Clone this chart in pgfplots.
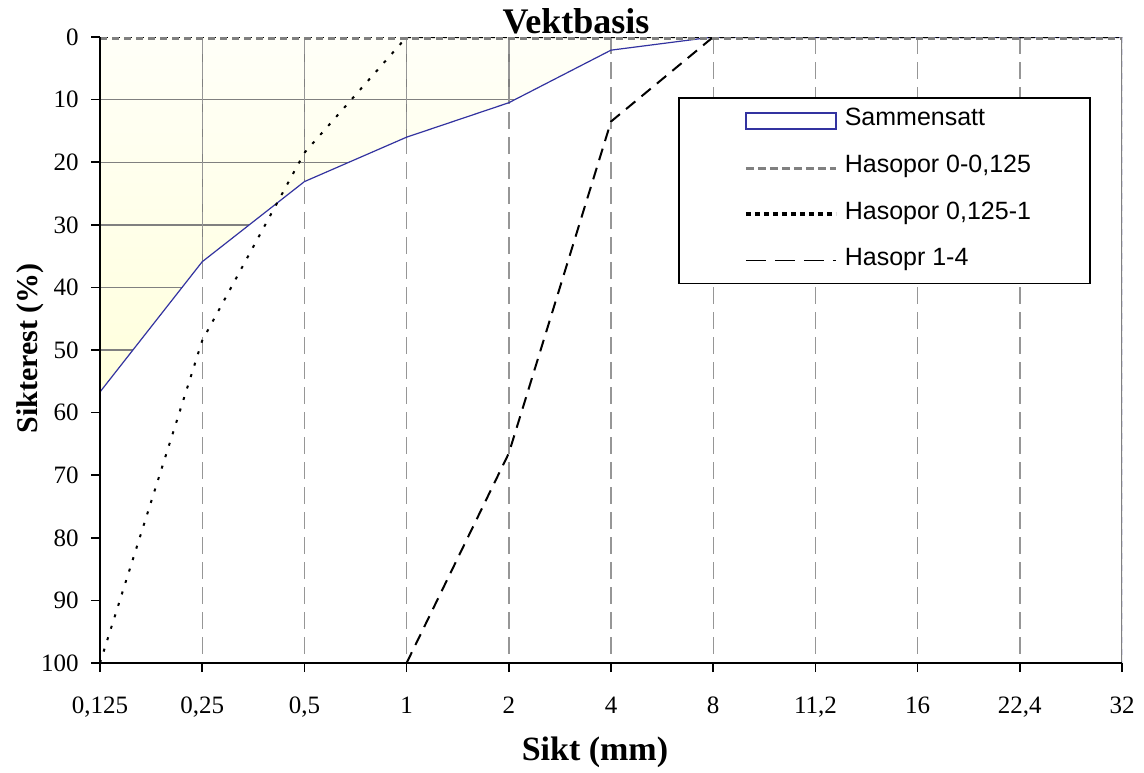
\documentclass[border=0pt]{standalone}
\usepackage{fontspec}
\setmainfont{Liberation Serif}
\newfontfamily\arial{Liberation Sans}
\usepackage{pgfplots}
\usepackage{pgfplotstable}
\pgfplotsset{compat=1.18}

\definecolor{sammblue}{RGB}{51,51,160}
\definecolor{gridgray}{RGB}{128,128,128}
\definecolor{dashgray}{RGB}{150,150,150}
\definecolor{fillyelA}{RGB}{255,255,248}
\definecolor{fillyelB}{RGB}{255,255,220}

% Sikterest (%) per sikt; x = index of the sieve size
\pgfplotstableread{
x y
0 56.7
1 35.9
2 23.1
3 16.0
4 10.5
5 2.1
6 0
7 0
8 0
9 0
10 0
}\sammensatt

\pgfplotstableread{
x y
0 0
1 0
2 0
3 0
4 0
5 0
6 0
7 0
8 0
9 0
10 0
}\hasoporA

\pgfplotstableread{
x y
0 100
1 48.5
2 18.5
3 0
4 0
5 0
6 0
7 0
8 0
9 0
10 0
}\hasoporB

\pgfplotstableread{
x y
3 100
4 66.5
5 13.5
6 0
7 0
8 0
9 0
10 0
}\hasoprC

\begin{document}
\begin{tikzpicture}
\begin{axis}[
  scale only axis, width=511pt, height=313pt,
  at={(0pt,0pt)}, anchor=south west,
  xmin=0, xmax=10, ymin=0, ymax=100, y dir=reverse,
  xtick={0,...,10},
  xticklabels={{0,125},{0,25},{0,5},1,2,4,8,{11,2},16,{22,4},32},
  ytick={0,10,...,100},
  axis x line*=bottom, axis y line*=left,
  axis line style={line width=0.8pt, -},
  tick align=outside, major tick length=4.5pt,
  tick style={black, line width=0.8pt},
  axis on top,
  /pgf/number format/assume math mode=true,
  tick label style={font=\fontsize{12.5}{14}\selectfont},
  yticklabel style={anchor=east, inner sep=0pt, xshift=-6pt},
  xticklabel style={anchor=base, inner sep=0pt, yshift=-20.5pt},
  title={Vektbasis},
  title style={at={(axis description cs:0.4658,0.9864)}, anchor=base, inner sep=0pt,
    font=\bfseries\fontsize{18}{20}\selectfont},
  xlabel={Sikt (mm)},
  xlabel style={at={(axis description cs:0.4843,-0.1565)}, anchor=base, inner sep=0pt,
    font=\bfseries\fontsize{17}{19}\selectfont},
  ylabel={Sikterest (\%)},
  ylabel style={at={(axis description cs:-0.0616,0.503)}, anchor=base, inner sep=0pt,
    font=\bfseries\fontsize{15}{17}\selectfont},
  legend style={at={(axis description cs:0.5656,0.904)}, anchor=north west,
    draw=black, line width=0.75pt, fill=white,
    font=\arial\fontsize{12.5}{15}\selectfont,
    inner xsep=0pt, inner ysep=6pt, row sep=12.3pt, column sep=3.5pt,
    nodes={inner sep=0pt, text height=8pt, text depth=3pt}},
  legend cell align=left,
]
% pale yellow area between the composite curve and 0 %
\addplot[draw=none, top color=fillyelA, bottom color=fillyelB, forget plot]
  table {\sammensatt} \closedcycle;

% solid grid inside the area
\pgfplotsinvokeforeach{10,20,30,40,50,60,70,80,90}{
  \draw[gridgray, line width=0.7pt] (axis cs:0,#1) -- (axis cs:10,#1);}
\pgfplotsinvokeforeach{1,2,3,4,5,6,7,8,9}{
  \draw[gridgray, line width=0.7pt] (axis cs:#1,0) -- (axis cs:#1,100);}

% blank out the grid below the composite curve
\addplot[draw=none, fill=white, forget plot] table {\sammensatt}
  -- (axis cs:10,100) -- (axis cs:0,100) -- cycle;

% dashed vertical grid lines
\pgfplotsinvokeforeach{1,2,3,4,5,6,7,8,9}{
  \draw[dashgray, line width=0.7pt, dash pattern=on 8.5pt off 4pt]
    (axis cs:#1,0) -- (axis cs:#1,100);}

% plot area border at top and right
\draw[black, line width=0.6pt, dash pattern=on 4pt off 2pt] (axis cs:0,0) -- (axis cs:10,0);
\draw[gridgray, line width=1pt] (axis cs:10,0) -- (axis cs:10,100);
\draw[sammblue, line width=0.5pt, dash pattern=on 3pt off 3pt] (axis cs:10,0) -- (axis cs:10,100);

\addplot[sammblue, line width=0.6pt,
  legend image code/.code={
    \path[draw=none] (-33.5pt,0pt) -- (45pt,0pt);
    \draw[sammblue, line width=0.8pt, fill=white, solid] (0pt,-4pt) rectangle (45pt,4pt);}]
  table {\sammensatt};
\addlegendentry{\makebox[122.5pt][l]{Sammensatt}}

\addplot[gridgray, line width=1.3pt, dash pattern=on 3.5pt off 2.5pt, yshift=-0.6pt,
  legend image code/.code={
    \path[draw=none] (-33.5pt,0pt) -- (45pt,0pt);
    \draw[gridgray, line width=1.4pt, dash pattern=on 4pt off 2pt] (0pt,0pt) -- (45pt,0pt);}]
  table {\hasoporA};
\addlegendentry{\makebox[122.5pt][l]{Hasopor 0-0,125}}

\addplot[black, line width=1pt, dash pattern=on 1.5pt off 4.5pt,
  legend image code/.code={
    \path[draw=none] (-33.5pt,0pt) -- (45pt,0pt);
    \draw[black, line width=2pt, dash pattern=on 2.5pt off 2pt] (0pt,0pt) -- (45pt,0pt);}]
  table {\hasoporB};
\addlegendentry{\makebox[122.5pt][l]{Hasopor 0,125-1}}

\addplot[black, line width=1pt, dash pattern=on 6pt off 4pt,
  legend image code/.code={
    \path[draw=none] (-33.5pt,0pt) -- (45pt,0pt);
    \draw[black, line width=0.5pt, dash pattern=on 10pt off 4.5pt] (0pt,0pt) -- (45pt,0pt);}]
  table {\hasoprC};
\addlegendentry{\makebox[122.5pt][l]{Hasopr 1-4}}

% the 0 % series again on top of the others along the upper edge
\addplot[gridgray, line width=1.3pt, dash pattern=on 3.5pt off 2.5pt, yshift=-0.6pt, forget plot]
  table {\hasoporA};
\end{axis}
% canvas margins around the chart
\path (-50pt,-54.5pt) rectangle (522pt,331.5pt);
\end{tikzpicture}
\end{document}
